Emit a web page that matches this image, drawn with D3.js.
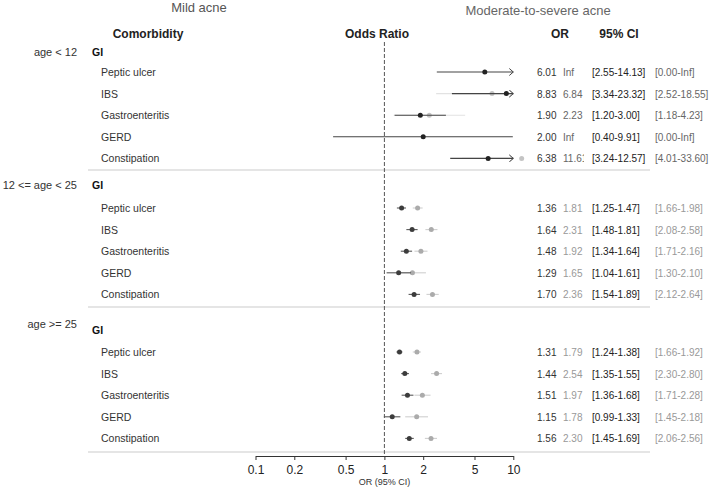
<!DOCTYPE html>
<html>
<head>
<meta charset="utf-8">
<script src="https://cdn.jsdelivr.net/npm/d3@7"></script>
<style>
  body { margin: 0; background: #fff; }
  svg text { font-family: "Liberation Sans", Arial, sans-serif; }
  .label { font-size: 10.5px; fill: #333; }
  .header { font-size: 12px; font-weight: bold; fill: #222; }
  .title { font-size: 13px; fill: #555; }
  .num { font-size: 10px; }
</style>
</head>
<body>
<svg id="forest" width="719" height="489"></svg>
<script>
// ---- data ----
var ageGroups = ['age < 12', '12 <= age < 25', 'age >= 25'];
var comorbidities = ['Peptic ulcer', 'IBS', 'Gastroenteritis', 'GERD', 'Constipation'];

// dark series (first OR column)
var orA = [
    [6.01, 8.83, 1.90, 2.00, 6.38],
    [1.36, 1.64, 1.48, 1.29, 1.70],
    [1.31, 1.44, 1.51, 1.15, 1.56]
];
var lowA = [
    [2.55, 3.34, 1.20, 0.40, 3.24],
    [1.25, 1.48, 1.34, 1.04, 1.54],
    [1.24, 1.35, 1.36, 0.99, 1.45]
];
var highA = [
    [14.13, 23.32, 3.00, 9.91, 12.57],
    [1.47, 1.81, 1.64, 1.61, 1.89],
    [1.38, 1.55, 1.68, 1.33, 1.69]
];

// light series (second OR column)
var orB = [
    [Infinity, 6.84, 2.23, Infinity, 11.61],
    [1.81, 2.31, 1.92, 1.65, 2.36],
    [1.79, 2.54, 1.97, 1.78, 2.30]
];
var lowB = [
    [0.00, 2.52, 1.18, 0.00, 4.01],
    [1.66, 2.08, 1.71, 1.30, 2.12],
    [1.66, 2.30, 1.71, 1.45, 2.06]
];
var highB = [
    [Infinity, 18.55, 4.23, Infinity, 33.60],
    [1.98, 2.58, 2.16, 2.10, 2.64],
    [1.92, 2.80, 2.28, 2.18, 2.56]
];

var xTicks = [0.1, 0.2, 0.5, 1, 2, 5, 10];

// ---- layout ----
var svg = d3.select('#forest');

var groupTop = [52, 185, 330];     // "GI" header row
var ageLabelY = [52, 185, 324];
var itemStart = [72, 208, 352];    // first comorbidity row
var sepY = [170, 307, 452];
var axisY = 456;

var xScale = d3.scaleLog().domain([0.1, 10]).range([255.5, 513.3]);
var rowScale = d3.scaleLinear().domain([0, 4]).range([0, 4 * 21.6]);

// arrow marker for CIs that run past the axis
var defs = svg.append('defs');
['dark', 'light'].forEach(function(k) {
    defs.append('marker')
        .attr('id', 'arrow-' + k)
        .attr('markerUnits', 'userSpaceOnUse')
        .attr('viewBox', '-1 -4 6 8')
        .attr('refX', 4).attr('refY', 0)
        .attr('markerWidth', 6).attr('markerHeight', 8)
        .attr('orient', 'auto')
        .append('path')
        .attr('d', 'M0,-3.5L4,0L0,3.5')
        .attr('fill', 'none')
        .attr('stroke', k == 'dark' ? '#444' : '#ccc')
        .attr('stroke-width', 1);
});
defs.append('clipPath').attr('id', 'orBclip')
    .append('rect').attr('x', 555).attr('y', 0).attr('width', 29).attr('height', 489);

// titles
svg.append('text').attr('class', 'title').attr('x', 199).attr('y', 12)
    .attr('text-anchor', 'middle').text('Mild acne');
svg.append('text').attr('class', 'title').attr('x', 538).attr('y', 15)
    .attr('text-anchor', 'middle').style('fill', '#666').text('Moderate-to-severe acne');

// column headers
var headers = [['Comorbidity', 148], ['Odds Ratio', 377], ['OR', 560], ['95% CI', 619]];
svg.selectAll('.header').data(headers).join('text')
    .attr('class', 'header')
    .attr('x', d => d[1]).attr('y', 38)
    .attr('text-anchor', 'middle')
    .text(d => d[0]);

// separators
svg.selectAll('.sep').data(sepY).join('line')
    .attr('class', 'sep')
    .attr('x1', 88).attr('x2', 650)
    .attr('y1', d => d).attr('y2', d => d)
    .attr('stroke', '#ddd').attr('stroke-width', 1.5);

// reference line at OR = 1
svg.append('line')
    .attr('x1', xScale(1)).attr('x2', xScale(1))
    .attr('y1', 42).attr('y2', axisY)
    .attr('stroke', '#555').attr('stroke-width', 1)
    .attr('stroke-dasharray', '4,2');

function fmt(v) {
    return isFinite(v) ? v.toFixed(2) : 'Inf';
}

ageGroups.forEach(function(age, g) {
    var gG = svg.append('g');

    gG.append('text').attr('class', 'label')
        .attr('x', 77).attr('y', ageLabelY[g] + 4)
        .attr('text-anchor', 'end')
        .style('font-size', '11px')
        .text(age);

    gG.append('text').attr('class', 'label')
        .attr('x', 92).attr('y', groupTop[g] + 4)
        .style('font-weight', 'bold').style('fill', '#111')
        .text('GI');

    var rows = comorbidities.map(function(name, i) {
        return {
            name: name,
            y: itemStart[g] + rowScale(i),
            a: [orA[g][i], lowA[g][i], highA[g][i]],
            b: [orB[g][i], lowB[g][i], highB[g][i]]
        };
    });

    gG.selectAll('.rowlabel').data(rows).join('text')
        .attr('class', 'label rowlabel')
        .attr('x', 101).attr('y', d => d.y + 4)
        .text(d => d.name);

    // light series first, dark on top; the youngest group is drawn with more contrast
    var styles = g == 0
        ? [['b', 'light', '#e2e2e2', '#c4c4c4'], ['a', 'dark', '#444', '#222']]
        : [['b', 'light', '#cfcfcf', '#ababab'], ['a', 'dark', '#5a5a5a', '#3c3c3c']];

    styles.forEach(function(s) {
        var key = s[0];
        var shown = rows.filter(d => isFinite(d[key][0]));

        gG.selectAll('.ci-' + key).data(shown).join('line')
            .attr('class', 'ci-' + key)
            .attr('x1', d => xScale(Math.max(d[key][1], 0.1)))
            .attr('x2', d => xScale(Math.min(d[key][2], 10)))
            .attr('y1', d => d.y).attr('y2', d => d.y)
            .attr('stroke', s[2]).attr('stroke-width', 1.1)
            .attr('marker-end', d => d[key][2] > 10 ? 'url(#arrow-' + s[1] + ')' : null);

        gG.selectAll('.pt-' + key).data(shown).join('circle')
            .attr('class', 'pt-' + key)
            .attr('cx', d => xScale(d[key][0]))
            .attr('cy', d => d.y)
            .attr('r', 2.5)
            .attr('fill', s[3]);
    });

    // number columns
    var lightCol = g == 0 ? '#666' : '#999';
    gG.selectAll('.orA').data(rows).join('text')
        .attr('class', 'num orA').attr('x', 537).attr('y', d => d.y + 4)
        .style('fill', '#333').text(d => fmt(d.a[0]));
    gG.selectAll('.orB').data(rows).join('text')
        .attr('class', 'num orB').attr('x', 563).attr('y', d => d.y + 4)
        .attr('clip-path', 'url(#orBclip)')
        .style('fill', lightCol).text(d => fmt(d.b[0]));
    gG.selectAll('.ciA').data(rows).join('text')
        .attr('class', 'num ciA').attr('x', 592).attr('y', d => d.y + 4)
        .style('fill', '#222').text(d => '[' + fmt(d.a[1]) + '-' + fmt(d.a[2]) + ']');
    gG.selectAll('.ciB').data(rows).join('text')
        .attr('class', 'num ciB').attr('x', 655).attr('y', d => d.y + 4)
        .style('fill', lightCol).text(d => '[' + fmt(d.b[1]) + '-' + fmt(d.b[2]) + ']');
});

// x axis
var xAxis = d3.axisBottom(xScale)
    .tickValues(xTicks)
    .tickFormat(d3.format('~g'))
    .tickSize(4)
    .tickSizeOuter(0);

var xG = svg.append('g')
    .attr('transform', 'translate(0,' + axisY + ')')
    .call(xAxis);
xG.select('.domain').attr('stroke', '#333');
xG.selectAll('.tick line').attr('stroke', '#333');
xG.selectAll('.tick text')
    .attr('fill', '#222')
    .attr('dy', '0.95em')
    .style('font-size', '12px')
    .style('font-family', '"Liberation Sans", Arial, sans-serif');

svg.append('text')
    .attr('x', xScale(1)).attr('y', 485)
    .attr('text-anchor', 'middle')
    .style('font-size', '9px').style('fill', '#333')
    .text('OR (95% CI)');
</script>
</body>
</html>
